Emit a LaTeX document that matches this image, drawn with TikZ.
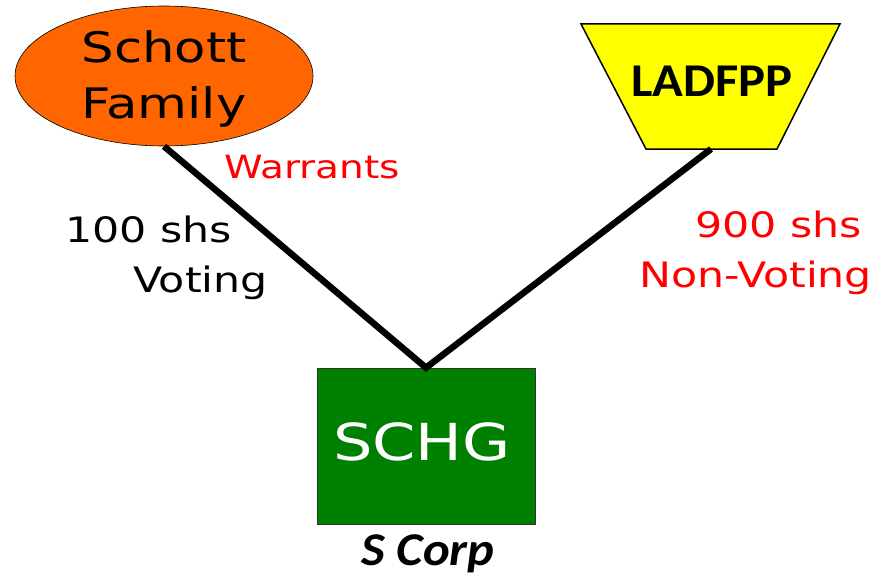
\documentclass[tikz,border=0pt]{standalone}
\usepackage{fontspec}
\setmainfont{DejaVu Sans}[FakeStretch=1.22]
\newfontfamily\carl{Carlito}[FakeStretch=1.08]
\usetikzlibrary{shapes.geometric}
\definecolor{sforange}{HTML}{FF6600}
\definecolor{ladyellow}{HTML}{FFFF00}
\definecolor{schgreen}{HTML}{008000}
\definecolor{labred}{HTML}{FF0000}
\tikzset{
  txt/.style={inner sep=0pt, outer sep=0pt},
  redlbl/.style={txt, text=labred, font=\fontsize{35}{42}\selectfont},
  blklbl/.style={txt, text=black, font=\fontsize{35}{42}\selectfont},
  bigtxt/.style={txt, font=\fontsize{42}{50}\selectfont},
  link/.style={line width=6.5pt, black, line join=miter}
}
\begin{document}
\begin{tikzpicture}[x=1pt,y=1pt]
\useasboundingbox (0,0) rectangle (896,-583);
% Schott Family ellipse
\node[ellipse, draw=black, line width=0.6pt, fill=sforange, minimum width=298pt, minimum height=140pt, inner sep=0pt] (sf) at (164,-76) {};
\node[bigtxt, anchor=base] (sf1) at (164,-63) {Schott};
\node[bigtxt, anchor=base] (sf2) at (164,-118) {Family};
% LADFPP trapezoid
\draw[line width=1.5pt, fill=ladyellow] (581,-24) -- (840,-24) -- (777,-149) -- (646,-149) -- cycle;
\coordinate (ladb) at (711,-149);
\node[txt, anchor=base, font=\carl\bfseries\fontsize{47}{54}\selectfont] (lad) at (712,-97) {LADFPP};
% SCHG box
\node[draw=black!80, line width=0.6pt, fill=schgreen, minimum width=218pt, minimum height=156pt, inner sep=0pt] (schg) at (426,-446) {};
\node[txt, anchor=base, text=white, font=\fontsize{51}{60}\selectfont] (schgt) at (422,-460) {SCHG};
\node[txt, anchor=base, font=\carl\bfseries\itshape\fontsize{47}{54}\selectfont] (scorp) at (428,-565) {S Corp};
% connectors
\draw[link] (sf.south) -- (schg.north) -- (ladb);
% labels
\node[redlbl, anchor=base west, font=\fontsize{32}{40}\selectfont] (war) at (224,-178) {Warrants};
\node[blklbl, anchor=base west] (l100) at (65,-242) {100 shs};
\node[blklbl, anchor=base west] (lvot) at (133,-292) {Voting};
\node[redlbl, anchor=base east] (l900) at (862,-237) {900 shs};
\node[redlbl, anchor=base east] (lnv) at (872,-287) {Non-Voting};
\end{tikzpicture}
\end{document}
